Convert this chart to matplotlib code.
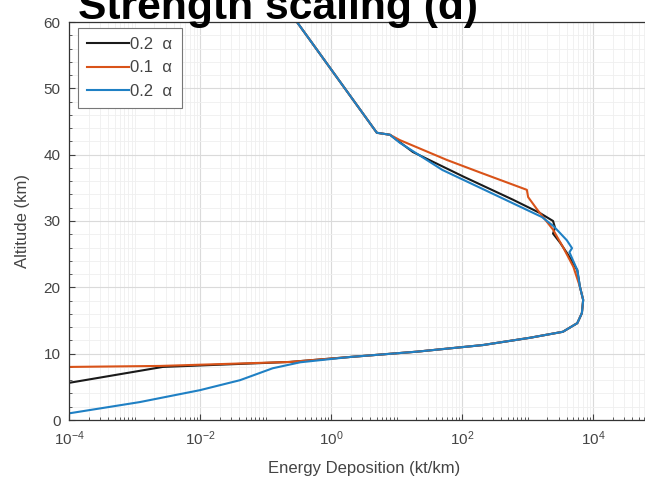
import numpy as np
import matplotlib
matplotlib.use("Agg")
import matplotlib.pyplot as plt
from matplotlib.ticker import LogLocator, MultipleLocator, NullFormatter

plt.rcParams['font.family'] = ['Liberation Sans', 'DejaVu Sans']

# ---- data (log10 energy deposition, altitude km) ----
# blue run (0.2 alpha, second)
blue_logx = [-0.52, 0.70, 0.90, 1.05, 1.70, 2.45, 3.22, 3.40, 3.60, 3.68, 3.64, 3.76, 3.80, 3.85,
             3.83, 3.76, 3.54, 3.04, 2.32, 1.31, 0.29, -0.47, -0.89, -1.39, -2.0, -2.92, -4.0]
blue_alt = [60.0, 43.3, 43.0, 41.8, 37.7, 34.2, 30.6, 29.2, 27.1, 25.9, 25.3, 22.6, 20.1, 18.1,
            16.1, 14.6, 13.3, 12.4, 11.3, 10.3, 9.5, 8.7, 7.8, 6.0, 4.5, 2.7, 1.0]

# orange run (0.1 alpha)
red_logx = [-0.52, 0.70, 0.90, 1.05, 1.77, 2.28, 2.99, 3.01, 3.15, 3.39, 3.54, 3.70, 3.80, 3.85,
            3.83, 3.76, 3.54, 3.04, 2.32, 1.31, 0.29, -0.63, -2.61, -4.0]
red_alt = [60.0, 43.3, 43.0, 42.2, 39.2, 37.3, 34.7, 33.6, 31.7, 28.7, 26.1, 23.1, 20.1, 18.1,
           16.1, 14.6, 13.3, 12.4, 11.3, 10.3, 9.5, 8.75, 8.15, 8.0]

# black run (0.2 alpha, first)
black_logx = [-0.52, 0.70, 0.90, 1.25, 2.02, 2.78, 3.19, 3.39, 3.42, 3.39, 3.50, 3.62, 3.76, 3.80, 3.85,
              3.83, 3.76, 3.54, 3.04, 2.32, 1.31, 0.29, -0.63, -2.57, -4.0]
black_alt = [60.0, 43.3, 43.0, 40.4, 36.7, 33.2, 31.2, 30.0, 29.0, 28.1, 26.7, 24.9, 22.6, 20.1, 18.1,
             16.1, 14.6, 13.3, 12.4, 11.3, 10.3, 9.5, 8.75, 8.0, 5.6]

labels = ['0.2  α', '0.1  α', '0.2  α']
colors = ['#1a1a1a', '#D95319', '#1f80c4']

W, H = 645, 487
fig = plt.figure(figsize=(W / 100, H / 100), dpi=100)
ax = fig.add_axes([69 / W, 67 / H, 589.5 / W, 398 / H])

for lx, alt, lab, c in zip([black_logx, red_logx, blue_logx],
                           [black_alt, red_alt, blue_alt], labels, colors):
    ax.plot(10 ** np.array(lx), alt, color=c, lw=1.5, label=lab)

ax.set_xscale('log')
ax.set_xlim(1e-4, 1e5)
ax.set_ylim(0, 60)
ax.xaxis.set_major_locator(LogLocator(base=100))
ax.xaxis.set_minor_locator(LogLocator(base=10, subs=np.arange(1, 10), numticks=30))
ax.xaxis.set_minor_formatter(NullFormatter())
ax.yaxis.set_major_locator(MultipleLocator(10))
ax.yaxis.set_minor_locator(MultipleLocator(2))

ax.grid(True, which='major', color='#dadada', lw=0.8)
ax.grid(True, which='minor', color='#efefef', lw=0.6)
ax.set_axisbelow(True)

ax.tick_params(which='both', direction='in', colors='#404040', labelcolor='#444444',
               labelsize=11, top=False, right=False)
ax.tick_params(which='major', length=4)
ax.tick_params(which='minor', length=2)
ax.tick_params(axis='x', which='major', pad=7)
ax.tick_params(axis='y', which='major', pad=6)
for s in ax.spines.values():
    s.set_color('#333333')
    s.set_linewidth(0.9)

ax.set_xlabel('Energy Deposition (kt/km)', fontsize=12, color='#444444', labelpad=9)
ax.set_ylabel('Altitude (km)', fontsize=12, color='#444444', labelpad=10)

leg = ax.legend(loc='upper left', bbox_to_anchor=(9 / 589.5, 1 - 6 / 398), borderaxespad=0,
                fontsize=12, handlelength=2.5, handletextpad=0.1, labelspacing=0.5,
                borderpad=0.55, fancybox=False, framealpha=1, edgecolor='#777777')
leg.get_frame().set_linewidth(0.8)
for t in leg.get_texts():
    t.set_color('#444444')

fig.text(78 / W, 1 - 19 / H, 'Strength scaling (d)', fontsize=30.7, fontweight='bold',
         ha='left', va='baseline')

fig.savefig('out.png', dpi=100)
